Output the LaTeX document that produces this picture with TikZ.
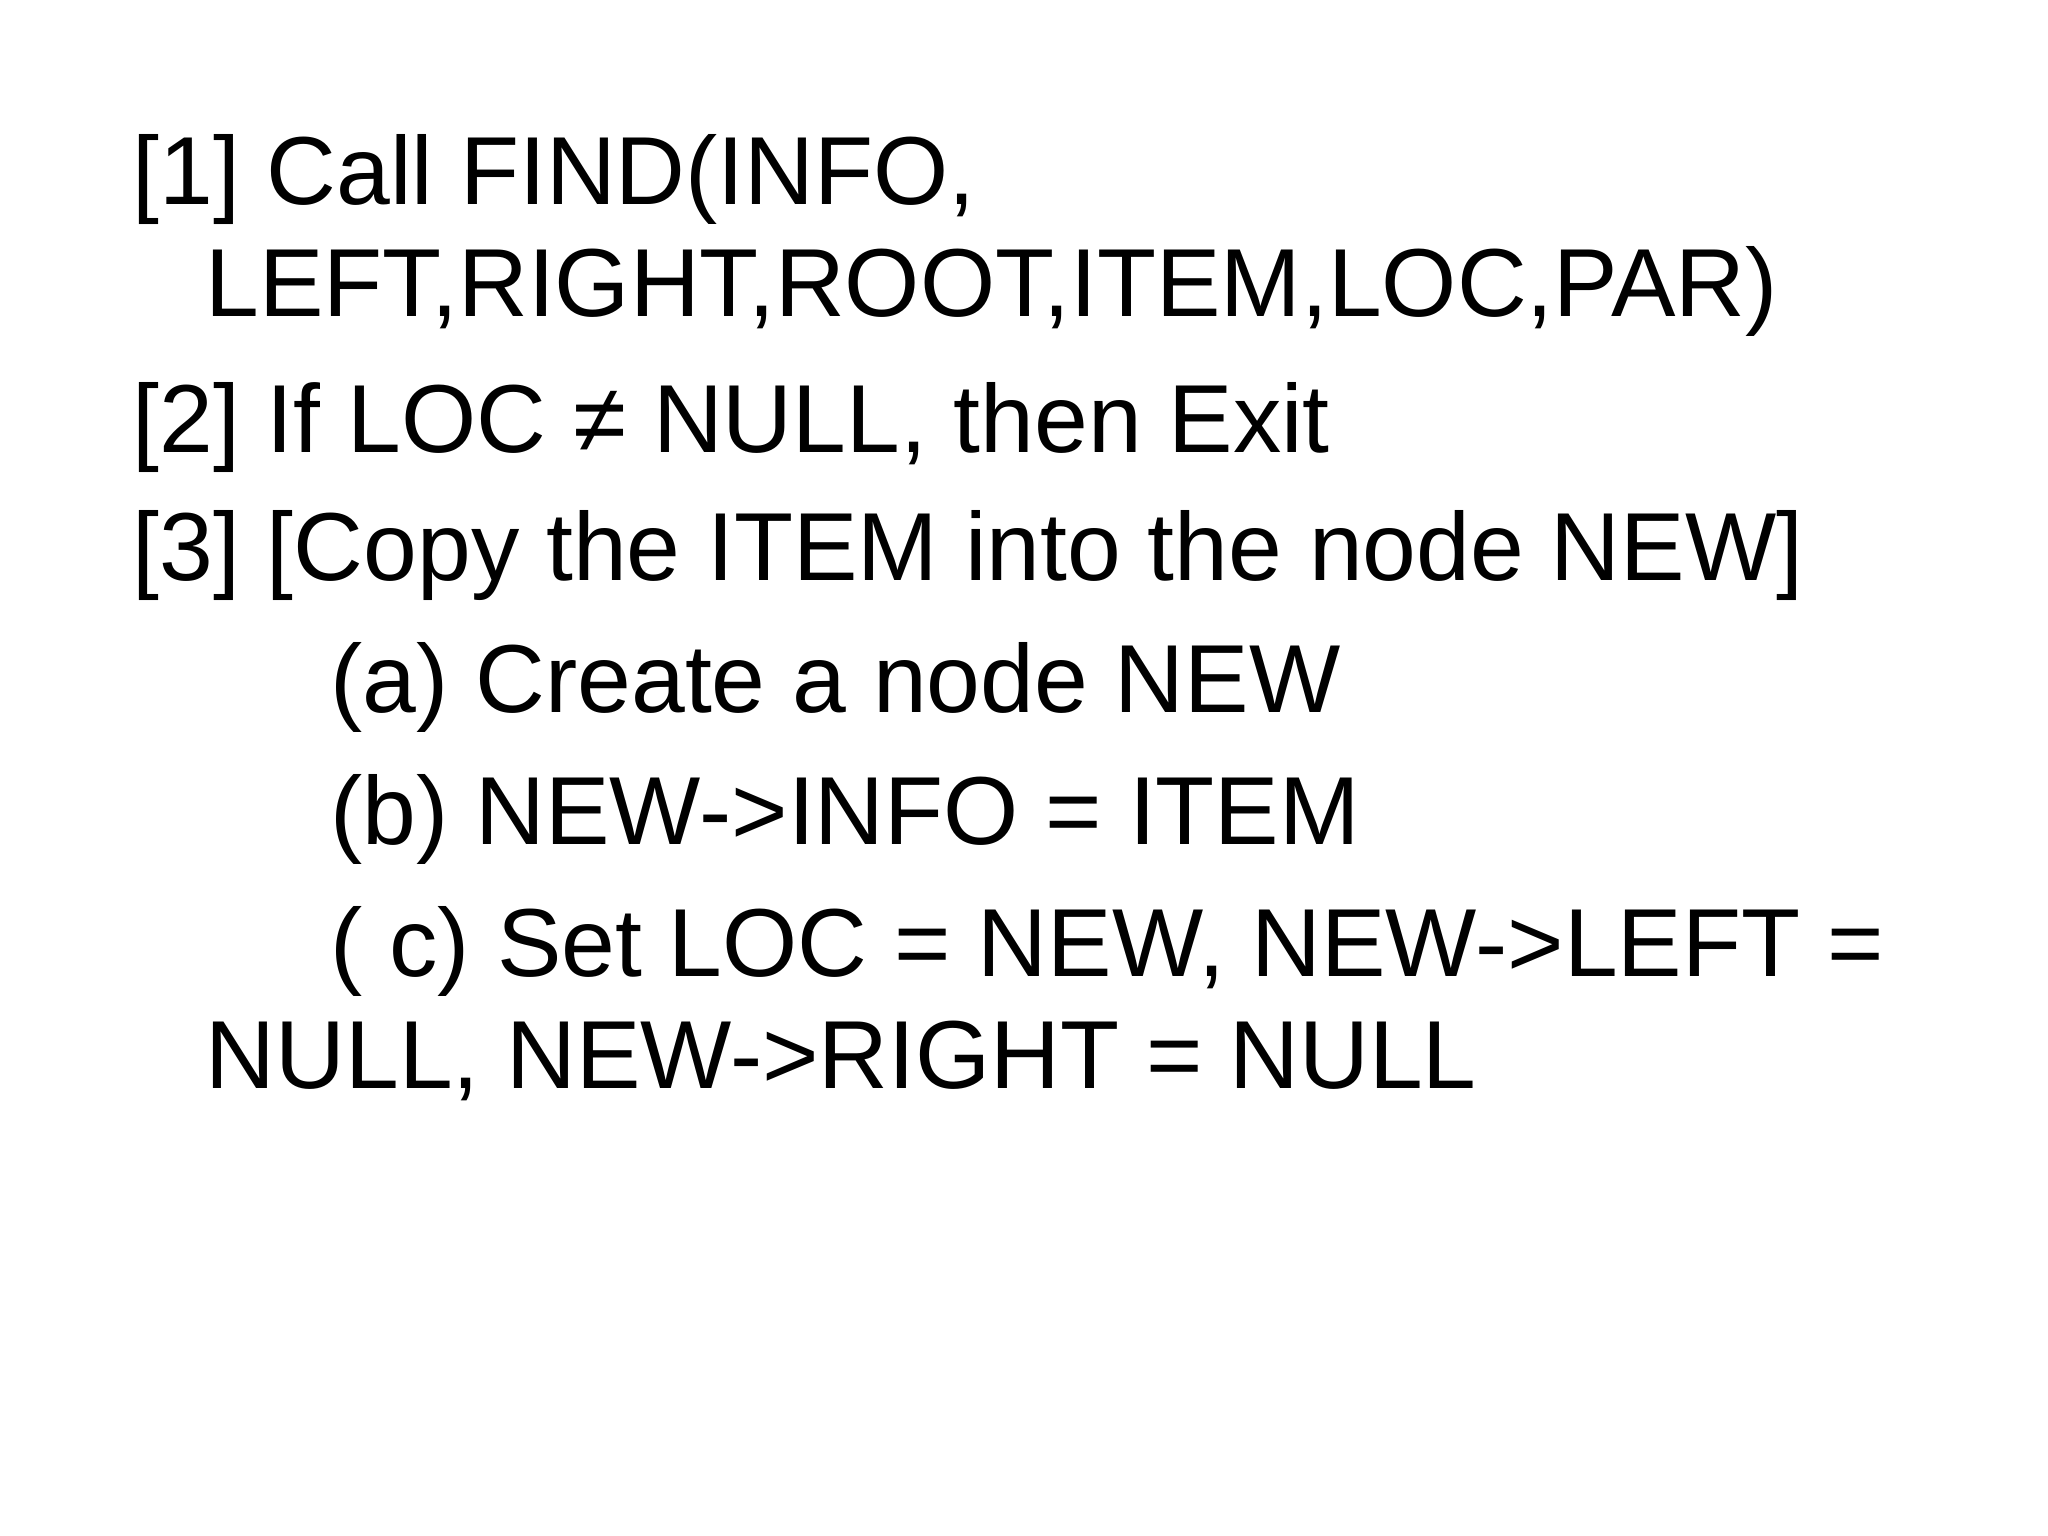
\documentclass[tikz,border=0pt]{standalone}
\usepackage{fontspec}
\setmainfont{Liberation Sans}
\begin{document}
\begin{tikzpicture}[x=1cm,y=1cm,
  ln/.style={anchor=base west,inner sep=0pt,font=\fontsize{27.5}{33}\selectfont}]
\useasboundingbox (0,0) rectangle (20.48,15.36);
\node[ln] (l1) at (1.32,15.36-2.05) {[1] Call FIND(INFO,};
\node[ln] (l1b) at (2.05,15.36-3.17) {LEFT,RIGHT,ROOT,ITEM,LOC,PAR)};
\node[ln] (l2) at (1.32,15.36-4.53) {[2] If LOC ≠ NULL, then Exit};
\node[ln] (l3) at (1.32,15.36-5.81) {[3] [Copy the ITEM into the node NEW]};
\node[ln] (l3a) at (3.30,15.36-7.13) {(a) Create a node NEW};
\node[ln] (l3b) at (3.30,15.36-8.45) {(b) NEW->INFO = ITEM};
\node[ln] (l3c) at (3.30,15.36-9.77) {( c) Set LOC = NEW, NEW->LEFT =};
\node[ln] (l3d) at (2.05,15.36-10.89) {NULL, NEW->RIGHT = NULL};
\end{tikzpicture}
\end{document}
